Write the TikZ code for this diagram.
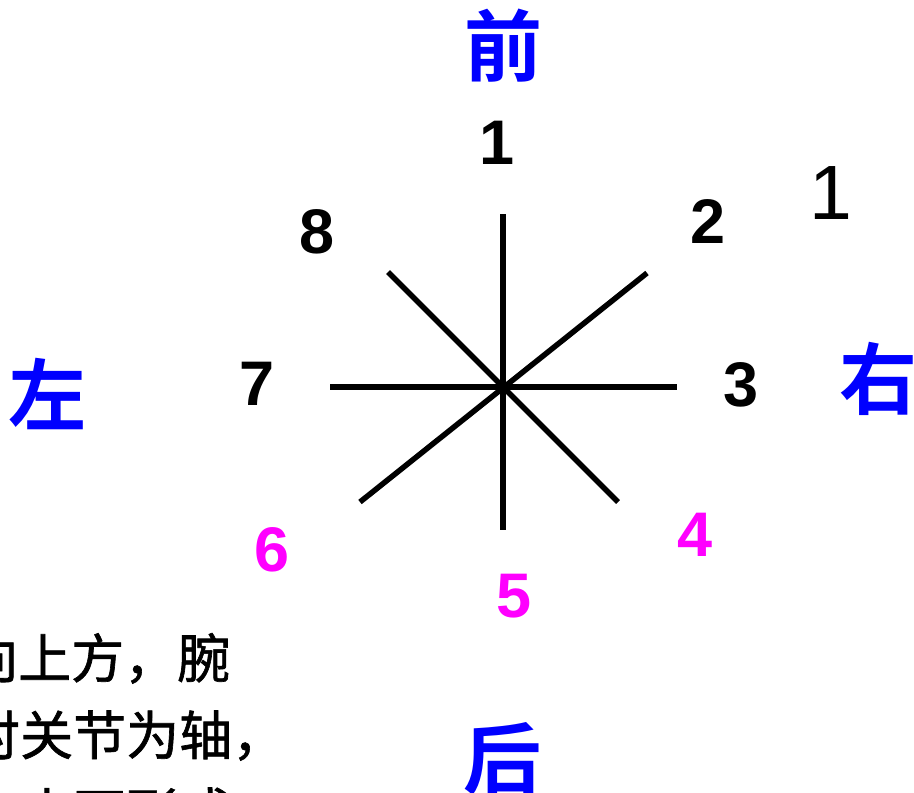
\documentclass[tikz,border=0pt]{standalone}
\usepackage{fontspec}
\setmainfont{Liberation Sans}
\newfontfamily\cjkbold[BoldFont=*]{Noto Sans CJK SC Bold}
\newfontfamily\cjkreg[FakeBold=1.2]{Noto Sans CJK SC}
\definecolor{dirblue}{RGB}{0,0,255}
\definecolor{magentanum}{RGB}{255,0,255}
\tikzset{
  spoke/.style={line width=5.5pt, black, line cap=butt},
  num/.style={inner sep=0pt, anchor=center, font=\fontsize{63}{63}\selectfont\bfseries},
  dirlabel/.style={inner sep=0pt, anchor=center, text=dirblue, font=\fontsize{78}{78}\selectfont\cjkbold},
  bodytext/.style={inner sep=0pt, anchor=base west, font=\fontsize{53}{53}\selectfont\cjkreg},
}
\begin{document}
\begin{tikzpicture}[x=1pt, y=-1pt]
\useasboundingbox (0,0) rectangle (914,793);
\clip (0,0) rectangle (914,793);
\fill[white] (0,0) rectangle (914,793);

% centre and spoke ends
\coordinate (c) at (503,387);
\coordinate (n) at (503,214);
\coordinate (s) at (503,530);
\coordinate (w) at (330,387);
\coordinate (e) at (677,387);
\coordinate (nw) at (388,272);
\coordinate (se) at (618,502);
\coordinate (ne) at (647,273);
\coordinate (sw) at (360,502);

\draw[spoke] (n) -- (s);
\draw[spoke] (w) -- (e);
\draw[spoke] (nw) -- (se);
\draw[spoke] (ne) -- (sw);

% numbers
\node[num] (d1) at (497,143) {1};
\node[num] (d2) at (708,222) {2};
\node[num] (d3) at (741,385) {3};
\node[num, text=magentanum] (d4) at (695,535) {4};
\node[num, text=magentanum] (d5) at (514,596) {5};
\node[num, text=magentanum] (d6) at (272,550) {6};
\node[num] (d7) at (257,384) {7};
\node[num] (d8) at (317,232) {8};
\node[inner sep=0pt, anchor=center, font=\fontsize{77}{77}\selectfont] (extra1) at (831,193) {1};

% direction labels
\node[dirlabel] (front) at (503,46) {前};
\node[dirlabel] (back) at (502,759) {后};
\node[dirlabel] (left) at (48,394) {左};
\node[dirlabel] (right) at (878,379) {右};

% clipped body text
\node[bodytext] (t1) at (-35,678) {向上方，腕};
\node[bodytext] (t2) at (-33,755) {肘关节为轴，};
\node[bodytext] (t3) at (-33,832) {大小不形成};
\end{tikzpicture}
\end{document}
